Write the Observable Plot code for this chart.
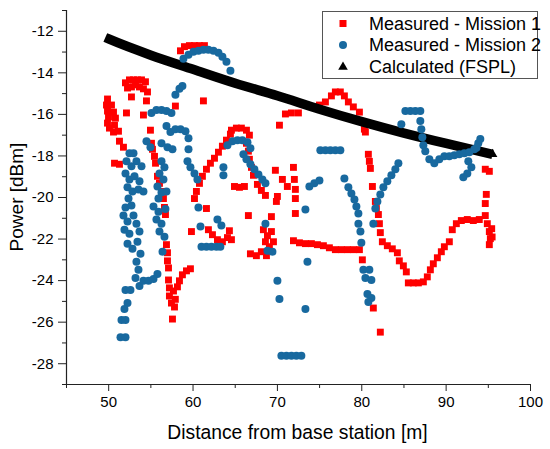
<!DOCTYPE html>
<html><head><meta charset="utf-8">
<script src="https://cdn.jsdelivr.net/npm/d3@7"></script>
<script src="https://cdn.jsdelivr.net/npm/@observablehq/plot@0.6"></script>
<style>body{margin:0;background:#fff}#wrap{width:550px;height:449px}</style>
</head><body><div id="wrap"></div>
<script>
// Measured - Mission 1 (distance m, power dBm)
const m1Dist = [49.86,49.74,49.86,49.98,49.86,50.09,50.57,50.69,50.80,50.57,50.33,51.16,52.11,51.28,51.75,50.69,51.28,
51.99,52.46,52.94,53.41,53.89,54.36,52.23,52.70,53.18,53.65,54.12,54.60,52.70,54.48,54.12,54.95,
55.07,55.19,55.43,55.55,55.78,56.02,56.26,56.49,56.61,56.73,56.85,56.97,56.97,57.09,57.09,57.20,57.20,57.44,57.80,57.56,57.68,57.90,58.15,58.39,58.74,59.22,59.69,
59.81,61.59,60.17,60.40,60.76,61.11,61.59,62.06,62.54,63.01,63.48,63.96,64.43,
64.55,65.14,65.73,66.33,66.68,66.33,66.56,66.68,66.92,67.16,
64.91,65.50,66.09,67.63,68.10,68.58,69.76,70.00,70.59,71.18,71.90,72.01,72.13,72.13,
70.24,70.95,71.66,72.49,
74.98,75.69,76.40,76.87,77.46,77.94,78.41,79.00,79.72,80.31,80.43,80.78,80.90,81.02,81.26,81.61,81.73,
81.97,82.09,82.20,82.44,83.03,83.62,84.22,84.45,84.93,85.28,85.52,86.11,86.71,87.30,87.77,88.13,88.48,88.96,89.43,89.79,90.38,90.73,91.21,91.80,92.51,93.22,93.93,94.64,94.88,95.12,95.24,95.12,95.40,95.45,94.64,94.76,94.64,95.12,
71.90,72.61,73.32,74.03,74.74,75.45,76.16,76.87,77.58,78.29,79.00,79.72,80.07,81.37,82.20,
66.56,69.29,69.88,72.13,64.31,64.55,68.34,68.82,69.29,68.58,69.05,68.10,67.51,66.80,68.70,69.53,
61.82,62.30,62.89,63.48,64.08,
58.51,58.98,59.57,60.17,60.76,61.35,
61.23,57.91];
const m1Power = [-15.26,-15.55,-15.84,-16.13,-16.42,-16.66,-16.85,-16.52,-16.18,-15.89,-15.55,-16.81,-15.93,-17.29,-17.58,-18.35,-18.40,
-14.48,-14.34,-14.34,-14.34,-14.34,-14.43,-14.73,-14.68,-14.58,-14.68,-14.77,-14.92,-15.16,-15.35,-16.03,-16.76,
-17.39,-17.68,-18.02,-18.35,-18.98,-19.32,-19.71,-20.05,-20.48,-20.82,-22.27,-22.66,-23.05,-23.39,-23.97,-24.35,-24.74,-25.08,-25.27,-25.85,-24.50,-24.90,-24.30,-24.01,-23.72,-23.53,-23.43,
-21.64,-20.53,-20.05,-19.71,-19.32,-18.98,-18.64,-18.35,-18.11,-17.82,-17.53,-17.24,-16.95,
-16.76,-16.66,-16.66,-16.76,-17.00,-17.39,-17.77,-18.16,-18.55,-18.93,
-19.47,-19.51,-19.47,-19.37,-19.66,-19.90,-18.69,-19.95,-19.13,-19.47,-18.55,-19.13,-19.61,-20.05,
-16.52,-15.98,-15.93,-15.93,
-15.55,-15.40,-15.11,-14.92,-14.92,-15.11,-15.40,-15.64,-15.89,-16.71,-16.85,-17.92,-18.26,-18.60,-19.47,-20.19,-20.53,
-20.82,-21.26,-21.69,-22.13,-22.32,-22.47,-22.66,-23.05,-23.29,-23.58,-24.11,-24.11,-24.11,-24.06,-23.82,-23.48,-23.19,-22.90,-22.61,-22.37,-22.13,-21.55,-21.26,-21.11,-21.06,-21.11,-21.06,-20.87,-21.26,-21.64,-21.98,-22.27,-21.50,-21.90,-20.29,-19.85,-18.64,-18.74,
-22.08,-22.18,-22.22,-22.22,-22.27,-22.32,-22.42,-22.51,-22.51,-22.51,-22.51,-22.51,-23.00,-25.32,-26.48,
-20.87,-20.92,-20.19,-20.77,-21.60,-22.03,-21.55,-21.84,-21.64,-22.13,-22.37,-22.61,-22.80,-22.71,-22.80,-22.13,
-21.55,-21.79,-22.03,-22.13,-21.93,
-12.94,-12.74,-12.69,-12.69,-12.69,-12.69,
-15.35,-15.60];

// Measured - Mission 2
const m2Dist = [52.46,52.94,52.11,52.70,53.29,53.89,51.99,52.46,53.06,53.65,52.23,52.82,53.53,54.12,52.35,51.99,52.70,51.75,52.23,52.94,51.87,52.46,53.29,53.65,52.23,52.82,53.41,53.77,53.29,53.53,53.18,53.65,54.12,54.72,55.31,55.78,51.99,52.58,52.23,51.87,51.52,51.99,51.40,51.99,
54.48,54.95,55.07,55.66,56.26,56.85,57.44,57.91,58.39,58.74,56.85,57.32,57.91,58.51,59.10,59.46,56.26,56.97,57.56,56.26,56.61,56.02,56.49,55.78,56.26,56.85,55.90,59.46,59.34,59.69,60.17,60.52,60.64,63.60,63.60,
64.08,64.67,65.26,65.85,66.45,66.80,65.97,66.33,66.80,67.27,67.75,68.22,68.58,
55.31,55.90,55.66,56.26,56.02,56.61,56.38,56.73,
58.86,59.46,60.05,60.64,61.23,61.82,62.42,63.01,63.48,63.96,64.43,
60.88,62.89,63.36,61.00,61.59,62.18,62.77,63.24,
68.58,68.82,69.41,70.00,70.24,73.32,73.56,73.32,
70.47,71.07,71.66,72.25,72.84,
75.09,75.69,76.28,76.87,77.46,73.79,74.38,74.98,77.94,78.41,78.77,79.13,79.36,79.60,79.60,79.84,79.95,80.19,80.90,80.43,81.14,80.67,81.14,80.78,
85.17,85.76,86.35,86.94,84.69,86.94,87.06,87.18,87.30,87.53,88.01,88.60,89.19,89.79,90.38,90.97,91.56,92.16,92.75,93.34,93.81,94.05,93.60,92.63,92.99,92.51,92.04,
84.34,83.98,83.51,83.03,82.56,82.20,81.85,81.61,81.37];
const m2Power = [-17.87,-17.87,-18.26,-18.50,-18.26,-18.50,-18.84,-19.13,-18.98,-19.22,-19.51,-19.71,-19.61,-19.71,-20.05,-20.48,-20.39,-20.87,-21.16,-20.87,-21.55,-21.74,-21.26,-21.64,-22.22,-22.47,-22.13,-22.71,-23.09,-23.48,-23.87,-24.26,-24.01,-24.01,-23.92,-23.68,-24.45,-24.45,-25.08,-25.37,-25.90,-25.90,-26.72,-26.72,
-17.29,-17.58,-15.93,-15.79,-15.79,-15.84,-15.93,-15.06,-14.77,-14.63,-16.56,-16.85,-16.71,-16.71,-16.81,-17.15,-17.39,-17.58,-17.68,-18.26,-18.55,-18.84,-19.13,-19.47,-19.76,-19.71,-20.05,-17.68,-18.26,-18.55,-18.84,-19.13,-20.48,-18.55,-18.93,
-17.48,-17.29,-17.24,-17.24,-17.34,-17.63,-17.92,-18.16,-18.40,-18.64,-18.89,-19.13,-19.32,
-20.43,-20.68,-21.06,-21.26,-21.64,-21.89,-22.61,-20.55,
-13.32,-13.13,-12.98,-12.94,-12.89,-12.89,-12.94,-13.03,-13.23,-13.47,-13.90,
-21.40,-21.06,-21.35,-22.37,-22.37,-22.37,-22.37,-22.37,
-21.26,-22.56,-22.61,-24.01,-24.88,-20.58,-23.09,-25.37,
-27.62,-27.62,-27.62,-27.62,-27.62,
-17.72,-17.72,-17.72,-17.72,-17.72,-19.47,-19.32,-19.18,-19.08,-19.51,-19.81,-20.10,-20.43,-20.77,-21.26,-21.64,-22.18,-23.48,-23.48,-23.87,-23.97,-24.64,-24.84,-25.03,
-15.84,-15.84,-15.84,-15.84,-16.47,-16.32,-16.71,-17.10,-17.48,-17.77,-18.16,-18.35,-18.16,-18.02,-18.02,-17.97,-17.92,-17.87,-17.82,-17.68,-17.39,-17.19,-17.60,-18.26,-18.55,-18.84,-19.03,
-18.35,-18.64,-18.93,-19.22,-19.51,-19.85,-20.19,-20.53,-21.26];

// Calculated (FSPL), read along the black band
const calcDist = [49.6,50,55,60,65,70,75,80,85,90,95.5];
const calcPower = [-12.30,-12.37,-13.15,-13.83,-14.50,-15.10,-15.75,-16.35,-16.90,-17.40,-17.92];

const xTicks = [50,60,70,80,90,100];
const xMinor = [45,55,65,75,85,95];
const yTicks = [-28,-26,-24,-22,-20,-18,-16,-14,-12];
const yMinor = [-29,-27,-25,-23,-21,-19,-17,-15,-13,-11];
const legendLabels = ["Measured - Mission 1","Measured - Mission 2","Calculated (FSPL)"];
const xTitle = "Distance from base station [m]";
const yTitle = "Power [dBm]";

const RED = "#ff0000", BLUE = "#18699f", BLACK = "#000";
const FONT = '"Liberation Sans", Arial, Helvetica, sans-serif';

const m1 = m1Dist.map((d,i)=>({d, p:m1Power[i]}));
const m2 = m2Dist.map((d,i)=>({d, p:m2Power[i]}));
const calc = calcDist.map((d,i)=>({d, p:calcPower[i]}));

const chart = Plot.plot({
  width:550, height:449,
  marginLeft:66, marginRight:20, marginTop:10, marginBottom:65,
  style:{fontFamily:FONT, fontSize:"15px", color:"#000", background:"#fff", overflow:"visible"},
  x:{domain:[45,100]},
  y:{domain:[-29,-11]},
  marks:[
    Plot.axisX({ticks:xTicks, tickSize:7, tickPadding:5, label:null, fontSize:15, stroke:"#222"}),
    Plot.axisX({ticks:xMinor, tickSize:4, text:null, label:null, stroke:"#222"}),
    Plot.axisY({ticks:yTicks, tickSize:8, tickPadding:5, label:null, fontSize:15, tickFormat:d=>String(d), stroke:"#222"}),
    Plot.axisY({ticks:yMinor, tickSize:4, text:null, label:null, stroke:"#222"}),
    Plot.ruleX([45], {stroke:"#222", strokeWidth:1.2}),
    Plot.ruleY([-29], {stroke:"#222", strokeWidth:1.2}),
    Plot.dot(m1, {x:"d", y:"p", symbol:"square", r:3.9, fill:RED, stroke:null}),
    Plot.line(calc, {x:"d", y:"p", stroke:BLACK, strokeWidth:9.5, strokeLinecap:"butt", curve:"monotone-x"}),
    Plot.dot(calc.slice(-1), {x:"d", y:"p", symbol:"triangle", r:3.6, fill:BLACK, stroke:null}),
    Plot.dot(m2, {x:"d", y:"p", r:4, fill:BLUE, stroke:null})
  ]
});
document.getElementById("wrap").appendChild(chart);

const svg = d3.select(chart);
svg.append("text").attr("x", 297.5).attr("y", 439).attr("text-anchor","middle")
  .style("font-family", FONT).style("font-size","19.3px").style("fill","#000").text(xTitle);
svg.append("text").attr("transform","translate(23,197) rotate(-90)").attr("text-anchor","middle")
  .style("font-family", FONT).style("font-size","19px").style("fill","#000").text(yTitle);

const lg = svg.append("g").attr("text-anchor","start");
lg.append("rect").attr("x",322.5).attr("y",11.5).attr("width",215).attr("height",67)
  .style("fill","#fff").style("stroke","#555").style("stroke-width","1px");
const rowsY = [23.5, 45, 67];
lg.append("rect").attr("x",339.5).attr("y",rowsY[0]-3.5).attr("width",7).attr("height",7).style("fill",RED);
lg.append("circle").attr("cx",343).attr("cy",rowsY[1]).attr("r",4).style("fill",BLUE);
lg.append("path").attr("transform",`translate(343,${rowsY[2]})`).attr("d", d3.symbol(d3.symbolTriangle, 40)()).style("fill",BLACK);
legendLabels.forEach((t,i)=>{
  lg.append("text").attr("x",369).attr("y",rowsY[i]+6).attr("text-anchor","start")
    .style("font-family",FONT).style("font-size","18px").style("fill","#000").text(t);
});
</script>
</body></html>
